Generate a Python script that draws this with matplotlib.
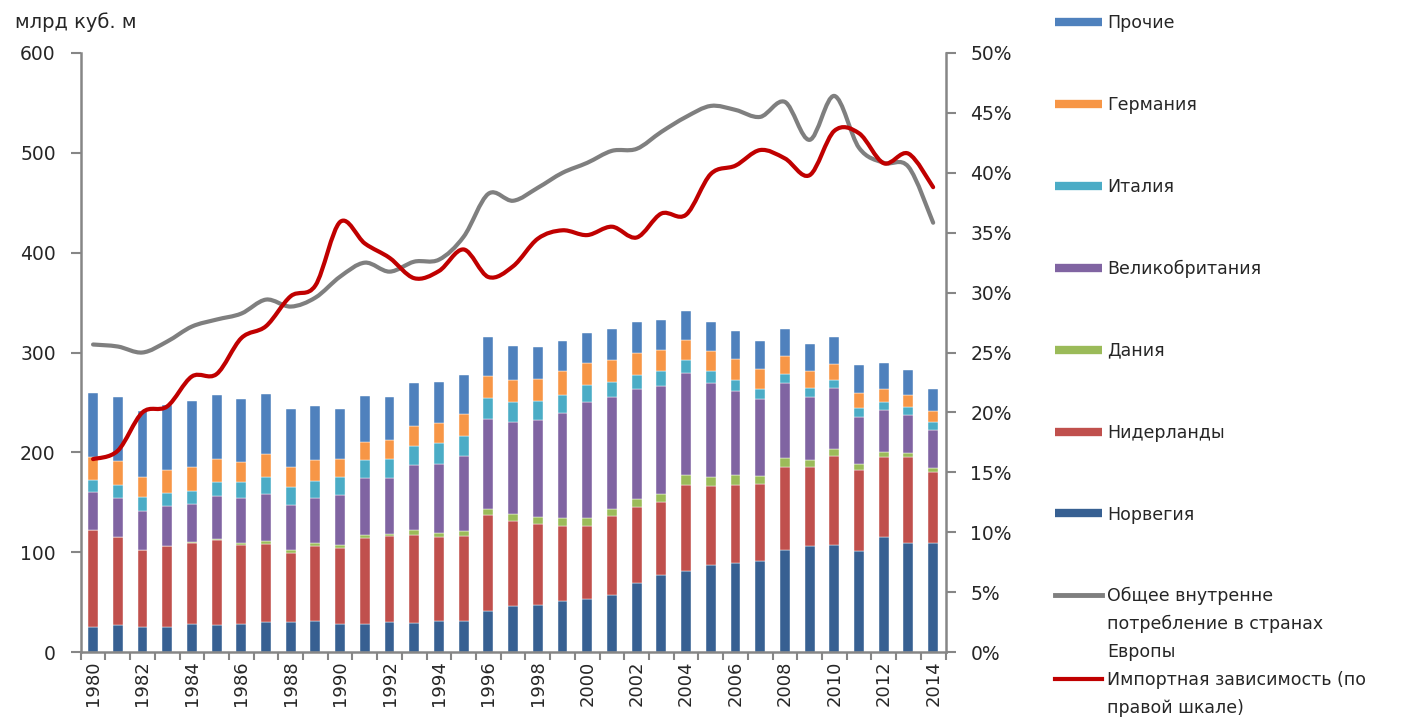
import numpy as np
import matplotlib
matplotlib.use("Agg")
import matplotlib.pyplot as plt
from matplotlib.lines import Line2D
from matplotlib.path import Path
from matplotlib.patches import PathPatch
from matplotlib.ticker import PercentFormatter

plt.rcParams['font.family'] = ['DejaVu Sans']

years = list(range(1980, 2015))

norway = [25, 27, 25, 25, 28, 27, 28, 30, 30, 31,
          28, 28, 30, 29, 31, 31, 41, 46, 47, 51,
          53, 57, 69, 77, 81, 87, 89, 91, 102, 106,
          107, 101, 115, 109, 109]
netherlands = [97, 88, 77, 81, 81, 85, 79, 78, 69, 75,
               76, 86, 86, 88, 84, 85, 96, 85, 81, 75,
               73, 79, 76, 73, 86, 79, 78, 77, 83, 79,
               89, 81, 80, 86, 71]
denmark = [0, 0, 0, 0, 1.5, 1, 2.5, 3, 3, 3.5,
           3.5, 3, 2.5, 5, 4.5, 5.5, 6.3, 7.6, 7.7, 8,
           8, 7.6, 8.7, 8, 10, 9.4, 10, 8.6, 9.6, 7.6,
           7.6, 6.7, 5.3, 4.3, 4.4]
uk = [38, 39, 39, 40, 38, 43, 45, 47, 45, 45,
      50, 57, 56, 65, 69, 75, 90, 92, 97, 105,
      116, 112, 110, 108, 102, 94, 84, 77, 75, 63,
      61, 47, 42, 38, 38]
italy = [12, 13, 14, 13, 13, 14, 16, 17, 18, 17,
         18, 18, 19, 19, 21, 20, 21, 20, 19, 18,
         17, 15, 14, 15, 13, 12, 11, 10, 9, 9,
         8, 9, 8, 8, 8]
germany = [23, 24, 20, 23, 24, 23, 20, 23, 20, 21,
           18, 18, 19, 20, 20, 22, 22, 22, 22, 24,
           22, 22, 22, 22, 21, 20, 21, 20, 18, 17,
           16, 15, 13, 12, 11]
others = [64, 64, 66, 65, 66, 64, 63, 60, 58, 54,
          50, 46, 43, 43, 41, 39, 39, 34, 32, 31,
          31, 31, 31, 30, 29, 29, 29, 28, 27, 27,
          27, 28, 26, 25, 22]

consumption = [308, 306, 300, 311, 326, 333, 339, 353, 346, 355,
               376, 390, 381, 391, 393, 416, 459, 452, 465, 480,
               490, 502, 504, 521, 536, 547, 543, 536, 551, 513,
               557, 505, 490, 486, 430]
import_dep = [16.1, 16.8, 20.0, 20.5, 23.0, 23.2, 26.2, 27.2, 29.7, 30.6,
              35.9, 34.1, 32.9, 31.2, 31.8, 33.6, 31.3, 32.2, 34.5, 35.2,
              34.8, 35.5, 34.6, 36.6, 36.5, 39.9, 40.6, 41.9, 41.2, 39.8,
              43.5, 43.3, 40.8, 41.6, 38.8]

series = [
    ("Норвегия", norway, "#376092"),
    ("Нидерланды", netherlands, "#C0504D"),
    ("Дания", denmark, "#9BBB59"),
    ("Великобритания", uk, "#8064A2"),
    ("Италия", italy, "#4BACC6"),
    ("Германия", germany, "#F79646"),
    ("Прочие", others, "#4F81BD"),
]
grey_lines = ["Общее внутренне", "потребление в странах", "Европы"]
red_lines = ["Импортная зависимость (по", "правой шкале)"]
grey_c = "#7F7F7F"
red_c = "#C00000"
axis_c = "#868686"
text_c = "#262626"

W, H = 1404, 717
fig = plt.figure(figsize=(W / 100, H / 100), dpi=100)
ax = fig.add_axes([80.7 / W, (H - 652) / H, (945.5 - 80.7) / W, (652 - 53) / H])
x = np.arange(len(years))

bottom = np.zeros(len(years))
for name, vals, col in series:
    v = np.array(vals, dtype=float)
    ax.bar(x, v, 0.4, bottom=bottom, color=col, edgecolor="white", linewidth=0.3, zorder=2)
    bottom += v


def smooth_path(xs, ys):
    xs = np.asarray(xs, float)
    ys = np.asarray(ys, float)
    pts = np.column_stack([xs, ys])
    n = len(pts)
    verts = [pts[0]]
    codes = [Path.MOVETO]
    for i in range(n - 1):
        p0 = pts[i - 1] if i > 0 else pts[i]
        p1 = pts[i]
        p2 = pts[i + 1]
        p3 = pts[i + 2] if i + 2 < n else pts[i + 1]
        c1 = p1 + (p2 - p0) / 6.0
        c2 = p2 - (p3 - p1) / 6.0
        verts += [c1, c2, p2]
        codes += [Path.CURVE4] * 3
    return Path(verts, codes)


ax.add_patch(PathPatch(smooth_path(x, consumption), fill=False, edgecolor=grey_c,
                       linewidth=3.0, capstyle="round", joinstyle="round", zorder=3))

ax.set_xlim(-0.5, len(years) - 0.5)
ax.set_ylim(0, 600)
ax.set_yticks(range(0, 601, 100))
ax.set_xticks(x[::2])
ax.set_xticklabels([str(y) for y in years[::2]], rotation=90, fontsize=13, color=text_c)
ax.set_xticks(np.arange(-0.5, len(years), 1), minor=True)
ax.tick_params(axis="x", which="major", length=0, pad=6)
ax.tick_params(axis="x", which="minor", length=6, color=axis_c, width=1.5)
ax.tick_params(axis="y", length=7, color=axis_c, width=1.5, labelsize=13.5, labelcolor=text_c, pad=11)

ax2 = ax.twinx()
ax2.add_patch(PathPatch(smooth_path(x, import_dep), fill=False, edgecolor=red_c,
                        linewidth=3.0, capstyle="round", joinstyle="round", zorder=3))
ax2.set_ylim(0, 50)
ax2.set_yticks(range(0, 51, 5))
ax2.yaxis.set_major_formatter(PercentFormatter(decimals=0))
ax2.tick_params(axis="y", length=7, color=axis_c, width=1.5, labelsize=13.5, labelcolor=text_c, pad=11)

for a in (ax, ax2):
    a.spines["top"].set_visible(False)
    for s in ("left", "right", "bottom"):
        a.spines[s].set_color(axis_c)
        a.spines[s].set_linewidth(1.8)
ax.spines["right"].set_visible(False)
ax2.spines["left"].set_visible(False)
ax2.spines["bottom"].set_visible(False)

fig.text(15 / W, 1 - 22 / H, "млрд куб. м", fontsize=14, color=text_c, va="center", ha="left")

LFS = 12.5
handles = [Line2D([], [], color=col, linewidth=6, solid_capstyle="butt") for _, _, col in reversed(series)]
labels = [name for name, _, _ in reversed(series)]
leg1 = fig.legend(handles, labels, loc="upper left", bbox_to_anchor=(1055 / W, 1 - 14 / H),
                  frameon=False, fontsize=LFS, handlelength=2.7, handletextpad=0.3,
                  labelspacing=3.68, borderpad=0, borderaxespad=0)

blank = Line2D([], [], linestyle="none")
h2 = [Line2D([], [], color=grey_c, linewidth=3.5), blank, blank,
      Line2D([], [], color=red_c, linewidth=3), blank]
l2 = grey_lines + red_lines
leg2 = fig.legend(h2, l2, loc="upper left", bbox_to_anchor=(1055 / W, 1 - 587 / H),
                  frameon=False, fontsize=LFS, handlelength=2.7, handletextpad=0.3,
                  labelspacing=0.57, borderpad=0, borderaxespad=0)
for lg in (leg1, leg2):
    for t in lg.get_texts():
        t.set_color(text_c)

fig.savefig("out.png", dpi=100)
